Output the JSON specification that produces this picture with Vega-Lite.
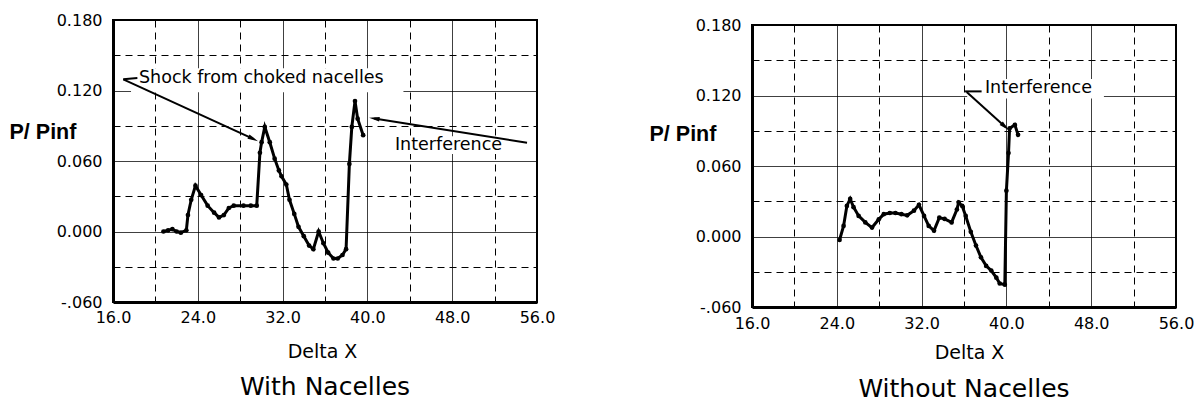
{
  "$schema": "https://vega.github.io/schema/vega-lite/v6.json",
  "padding": {"left": 8, "top": 11, "right": 0, "bottom": 0},
  "background": "white",
  "config": {
    "view": {"stroke": "black", "strokeWidth": 2},
    "axis": {
      "grid": true, "gridColor": "black", "gridOpacity": 1, "gridWidth": 1,
      "ticks": false, "domainColor": "black", "domainWidth": 3,
      "labelFont": "DejaVu Sans", "labelFontSize": 16, "labelColor": "black",
      "labelFlush": false, "labelOverlap": false, "labelBound": false,
      "titleColor": "black"
    }
  },
  "hconcat": [
    {
      "width": 424, "height": 282,
      "title": {"text": "With Nacelles", "orient": "bottom", "offset": 14, "fontSize": 25, "font": "DejaVu Sans", "fontWeight": "normal", "color": "black", "anchor": "middle"},
      "encoding": {
        "x": {"field": "x", "type": "quantitative", "scale": {"domain": [16, 56], "nice": false, "zero": false},
          "axis": {"values": [16, 20, 24, 28, 32, 36, 40, 44, 48, 52, 56],
            "labelExpr": "datum.value % 8 == 0 ? format(datum.value, '.1f') : ''",
            "gridDash": {"condition": {"test": "datum.value % 8 == 0", "value": [1, 0]}, "value": [7, 5]},
            "labelPadding": 7, "title": "Delta X", "titleFont": "DejaVu Sans", "titleFontSize": 19, "titleFontWeight": "normal",
            "titleX": 209, "titleY": 49, "titleBaseline": "middle", "titleAlign": "center"}},
        "y": {"field": "y", "type": "quantitative", "scale": {"domain": [-0.06, 0.18], "nice": false, "zero": false},
          "axis": {"values": [-0.06, -0.03, 0, 0.03, 0.06, 0.09, 0.12, 0.15, 0.18],
            "labelExpr": "abs(datum.value*50/3 - round(datum.value*50/3)) < 0.01 ? (datum.value < 0 ? '-' + slice(format(-datum.value, '.3f'), 1) : format(datum.value, '.3f')) : ''",
            "gridDash": {"condition": {"test": "abs(datum.value*50/3 - round(datum.value*50/3)) < 0.01", "value": [1, 0]}, "value": [7, 5]},
            "labelPadding": 11, "title": "P/ Pinf", "titleFont": "Liberation Sans", "titleFontSize": 21.5, "titleFontWeight": "bold",
            "titleAngle": 0, "titleAlign": "left", "titleBaseline": "middle", "titleX": -104, "titleY": 112}}
      },
      "layer": [
        {"data": {"values": [{"x": 17.7, "x2": 43.4, "y": 0.1185, "y2": 0.139}, {"x": 42.3, "x2": 53.3, "y": 0.066, "y2": 0.081}]},
          "mark": {"type": "rect", "fill": "white"},
          "encoding": {"x2": {"field": "x2"}, "y2": {"field": "y2"}}},
        {"data": {"values": [{"x": 16.97, "y": 0.1295, "x2": 18.3, "y2": 0.1306}, {"x": 16.97, "y": 0.1295, "x2": 29.23, "y2": 0.0788}, {"x": 55.06, "y": 0.0756, "x2": 40.65, "y2": 0.0962}]},
          "mark": {"type": "rule", "color": "black", "strokeWidth": 2},
          "encoding": {"x2": {"field": "x2"}, "y2": {"field": "y2"}}},
        {"data": {"values": [{"x": 29.23, "y": 0.0788}]},
          "mark": {"type": "point", "shape": "M-1,-0.45L1,0L-1,0.45Z", "angle": 25, "filled": true, "color": "black", "opacity": 1, "size": 110}},
        {"data": {"values": [{"x": 40.65, "y": 0.0962}]},
          "mark": {"type": "point", "shape": "M-1,-0.45L1,0L-1,0.45Z", "angle": 189, "filled": true, "color": "black", "opacity": 1, "size": 110}},
        {"data": {"values": [{"x": 18.45, "y": 0.1306, "t": "Shock from choked nacelles"}, {"x": 42.6, "y": 0.0736, "t": "Interference"}]},
          "mark": {"type": "text", "align": "left", "baseline": "middle", "font": "DejaVu Sans", "fontSize": 17.5, "color": "black"},
          "encoding": {"text": {"field": "t"}}},
        {"data": {"values": [
          {"x": 20.76, "y": 0.000}, {"x": 21.2, "y": 0.001}, {"x": 21.6, "y": 0.002}, {"x": 22.0, "y": 0.000}, {"x": 22.4, "y": -0.001},
          {"x": 22.92, "y": 0.001}, {"x": 23.07, "y": 0.014}, {"x": 23.38, "y": 0.027}, {"x": 23.78, "y": 0.039}, {"x": 24.31, "y": 0.031},
          {"x": 24.93, "y": 0.022}, {"x": 25.54, "y": 0.016}, {"x": 26.0, "y": 0.012}, {"x": 26.46, "y": 0.014}, {"x": 26.93, "y": 0.020},
          {"x": 27.39, "y": 0.022}, {"x": 28.31, "y": 0.022}, {"x": 29.0, "y": 0.022}, {"x": 29.56, "y": 0.022}, {"x": 29.86, "y": 0.067},
          {"x": 30.02, "y": 0.076}, {"x": 30.32, "y": 0.089}, {"x": 30.79, "y": 0.076}, {"x": 31.25, "y": 0.062}, {"x": 31.65, "y": 0.052},
          {"x": 31.9, "y": 0.047}, {"x": 32.35, "y": 0.040}, {"x": 32.65, "y": 0.027}, {"x": 33.1, "y": 0.015}, {"x": 33.5, "y": 0.004},
          {"x": 34.0, "y": -0.004}, {"x": 34.5, "y": -0.012}, {"x": 34.9, "y": -0.015}, {"x": 35.4, "y": 0.000}, {"x": 35.85, "y": -0.010},
          {"x": 36.3, "y": -0.018}, {"x": 36.8, "y": -0.023}, {"x": 37.2, "y": -0.023}, {"x": 37.65, "y": -0.020}, {"x": 37.99, "y": -0.015},
          {"x": 38.3, "y": 0.0575}, {"x": 38.53, "y": 0.089}, {"x": 38.83, "y": 0.111}, {"x": 39.08, "y": 0.096}, {"x": 39.6, "y": 0.082}
        ]},
          "mark": {"type": "line", "color": "black", "strokeWidth": 3, "point": {"filled": true, "color": "black", "size": 22}}}
      ]
    },
    {
      "spacing": 0,
      "bounds": "flush",
      "vconcat": [
        {"width": 424, "height": 5, "view": {"stroke": null}, "data": {"values": [{}]}, "mark": {"type": "text", "text": ""}, "encoding": {}},
        {
          "width": 424, "height": 282,
          "title": {"text": "Without Nacelles", "orient": "bottom", "offset": 15, "fontSize": 25, "font": "DejaVu Sans", "fontWeight": "normal", "color": "black", "anchor": "middle"},
          "encoding": {
            "x": {"field": "x", "type": "quantitative", "scale": {"domain": [16, 56], "nice": false, "zero": false},
              "axis": {"values": [16, 20, 24, 28, 32, 36, 40, 44, 48, 52, 56],
                "labelExpr": "datum.value % 8 == 0 ? format(datum.value, '.1f') : ''",
                "gridDash": {"condition": {"test": "datum.value % 8 == 0", "value": [1, 0]}, "value": [7, 5]},
                "labelPadding": 8, "title": "Delta X", "titleFont": "DejaVu Sans", "titleFontSize": 19, "titleFontWeight": "normal",
                "titleX": 217, "titleY": 45, "titleBaseline": "middle", "titleAlign": "center"}},
            "y": {"field": "y", "type": "quantitative", "scale": {"domain": [-0.06, 0.18], "nice": false, "zero": false},
              "axis": {"values": [-0.06, -0.03, 0, 0.03, 0.06, 0.09, 0.12, 0.15, 0.18],
                "labelExpr": "abs(datum.value*50/3 - round(datum.value*50/3)) < 0.01 ? (datum.value < 0 ? '-' + slice(format(-datum.value, '.3f'), 1) : format(datum.value, '.3f')) : ''",
                "gridDash": {"condition": {"test": "abs(datum.value*50/3 - round(datum.value*50/3)) < 0.01", "value": [1, 0]}, "value": [7, 5]},
                "labelPadding": 11, "title": "P/ Pinf", "titleFont": "Liberation Sans", "titleFontSize": 21.5, "titleFontWeight": "bold",
                "titleAngle": 0, "titleAlign": "left", "titleBaseline": "middle", "titleX": -103, "titleY": 109}}
          },
          "layer": [
            {"data": {"values": [{"x": 36.3, "x2": 49.2, "y": 0.1175, "y2": 0.134}]},
              "mark": {"type": "rect", "fill": "white"},
              "encoding": {"x2": {"field": "x2"}, "y2": {"field": "y2"}}},
            {"data": {"values": [{"x": 36.1, "y": 0.1235, "x2": 37.66, "y2": 0.1235}, {"x": 36.25, "y": 0.123, "x2": 39.88, "y2": 0.0934}]},
              "mark": {"type": "rule", "color": "black", "strokeWidth": 2},
              "encoding": {"x2": {"field": "x2"}, "y2": {"field": "y2"}}},
            {"data": {"values": [{"x": 39.88, "y": 0.0934}]},
              "mark": {"type": "point", "shape": "M-1,-0.45L1,0L-1,0.45Z", "angle": 42, "filled": true, "color": "black", "opacity": 1, "size": 110}},
            {"data": {"values": [{"x": 37.97, "y": 0.126, "t": "Interference"}]},
              "mark": {"type": "text", "align": "left", "baseline": "middle", "font": "DejaVu Sans", "fontSize": 17.5, "color": "black"},
              "encoding": {"text": {"field": "t"}}},
            {"data": {"values": [
              {"x": 24.26, "y": -0.003}, {"x": 24.64, "y": 0.009}, {"x": 24.95, "y": 0.026}, {"x": 25.26, "y": 0.032}, {"x": 25.58, "y": 0.025},
              {"x": 26.06, "y": 0.0175}, {"x": 26.69, "y": 0.012}, {"x": 27.32, "y": 0.0076}, {"x": 27.96, "y": 0.0146}, {"x": 28.43, "y": 0.019},
              {"x": 29.0, "y": 0.020}, {"x": 29.53, "y": 0.020}, {"x": 30.1, "y": 0.019}, {"x": 30.64, "y": 0.018}, {"x": 31.28, "y": 0.022},
              {"x": 31.75, "y": 0.027}, {"x": 32.23, "y": 0.0175}, {"x": 32.67, "y": 0.009}, {"x": 33.17, "y": 0.005}, {"x": 33.67, "y": 0.016},
              {"x": 34.17, "y": 0.015}, {"x": 34.83, "y": 0.012}, {"x": 35.33, "y": 0.023}, {"x": 35.5, "y": 0.029}, {"x": 35.83, "y": 0.026},
              {"x": 36.16, "y": 0.0175}, {"x": 36.64, "y": 0.004}, {"x": 37.13, "y": -0.0077}, {"x": 37.6, "y": -0.0177}, {"x": 38.09, "y": -0.025},
              {"x": 38.57, "y": -0.029}, {"x": 39.05, "y": -0.035}, {"x": 39.37, "y": -0.040}, {"x": 39.85, "y": -0.041}, {"x": 40.0, "y": 0.039},
              {"x": 40.2, "y": 0.071}, {"x": 40.3, "y": 0.092}, {"x": 40.8, "y": 0.095}, {"x": 41.1, "y": 0.0865}
            ]},
              "mark": {"type": "line", "color": "black", "strokeWidth": 3, "point": {"filled": true, "color": "black", "size": 22}}}
          ]
        }
      ]
    }
  ],
  "spacing": 215,
  "bounds": "flush"
}
